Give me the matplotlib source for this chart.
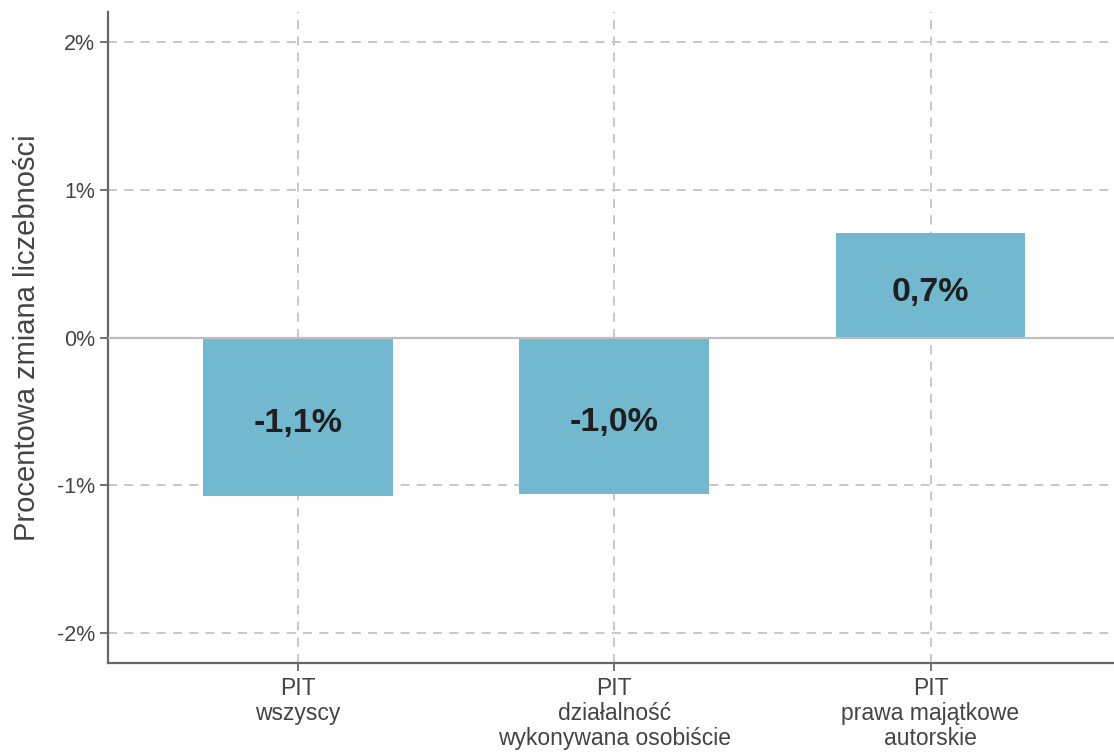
import matplotlib
matplotlib.use("Agg")
import matplotlib.pyplot as plt

categories = ["PIT\nwszyscy",
              "PIT\ndziałalność\nwykonywana osobiście",
              "PIT\nprawa majątkowe\nautorskie"]
values = [-1.07, -1.055, 0.705]
value_labels = ["-1,1%", "-1,0%", "0,7%"]
y_ticks = [-2, -1, 0, 1, 2]
y_tick_labels = ["-2%", "-1%", "0%", "1%", "2%"]

plt.rcParams['font.family'] = ['Liberation Sans', 'DejaVu Sans']

W, H = 1114, 753
fig = plt.figure(figsize=(W / 100, H / 100), dpi=100)
ax = fig.add_axes([108 / W, (H - 663) / H, (W - 108) / W, (663 - 12) / H])

x = list(range(len(categories)))
ax.bar(x, values, width=0.6, color="#72B9CF", zorder=2)
ax.axhline(0, color="#BEBEBE", lw=1.6, zorder=3)

# value labels in the middle of each bar
for xi, v, lab in zip(x, values, value_labels):
    ax.annotate(lab, (xi, v / 2), xytext=(0, -5), textcoords="offset points",
                ha="center", va="center", fontsize=24.5, fontweight="bold",
                color="#1f1f1f", zorder=4)

ax.set_xlim(-0.6, 2.58)
ax.set_ylim(-2.2, 2.2)
ax.set_xticks(x)
ax.set_xticklabels(categories, fontsize=16.5, color="#444444", linespacing=1.12)
ax.set_yticks(y_ticks)
ax.set_yticklabels(y_tick_labels, fontsize=15.5, color="#444444")
ax.set_ylabel("Procentowa zmiana liczebności", fontsize=21, color="#444444",
              labelpad=11)

ax.grid(True, color="#C4C4C4", linestyle=(0, (5, 4)), lw=1.3, zorder=0)
ax.set_axisbelow(True)
for s in ["top", "right"]:
    ax.spines[s].set_visible(False)
for s in ["left", "bottom"]:
    ax.spines[s].set_color("#666666")
    ax.spines[s].set_linewidth(1.6)
ax.tick_params(colors="#666666", length=6, width=1.3, labelcolor="#444444")
ax.tick_params(axis="x", pad=4)

fig.savefig("out.png", dpi=100)
